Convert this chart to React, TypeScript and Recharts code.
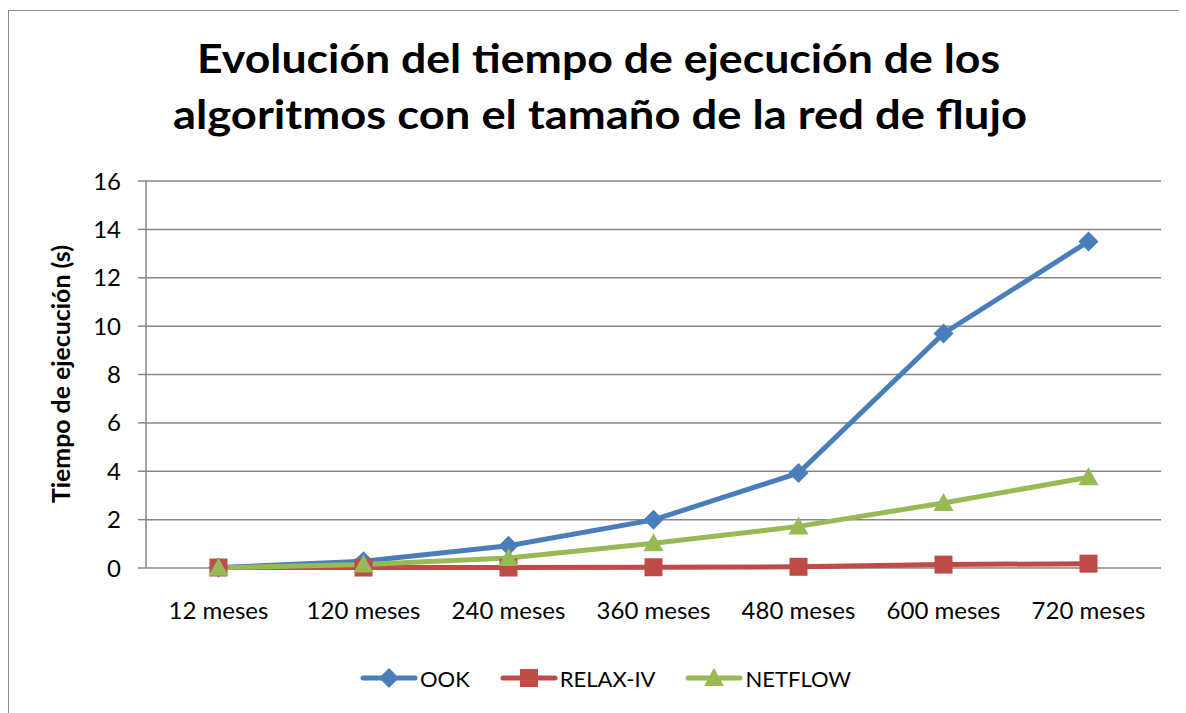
import React from "react";
import { LineChart, Line, XAxis, YAxis, CartesianGrid, Legend, Customized } from "recharts";

const categories = ["12 meses", "120 meses", "240 meses", "360 meses", "480 meses", "600 meses", "720 meses"];
const ookValues = [0.02, 0.28, 0.92, 1.99, 3.93, 9.7, 13.5];
const relaxValues = [0.02, 0.02, 0.02, 0.03, 0.05, 0.14, 0.18];
const netflowValues = [0.01, 0.14, 0.41, 1.02, 1.72, 2.69, 3.75];
const yTicks = [0, 2, 4, 6, 8, 10, 12, 14, 16];

const catTicks = categories.map((_, i) => i);
const boundaryTicks = [...categories.map((_, i) => i - 0.5), categories.length - 0.5];

const data = categories.map((name, i) => ({
  idx: i,
  name,
  OOK: ookValues[i],
  "RELAX-IV": relaxValues[i],
  NETFLOW: netflowValues[i],
}));

const BLUE = "#4a7ebb";
const RED = "#be4b48";
const GREEN = "#98b954";
const GRID = "#868686";
const FONT = "Lato, 'Open Sans', sans-serif";

const Marker = ({ kind, cx, cy, fill }: { kind: string; cx: number; cy: number; fill: string }) => {
  if (kind === "diamond")
    return <polygon points={`${cx},${cy - 10} ${cx + 10},${cy} ${cx},${cy + 10} ${cx - 10},${cy}`} fill={fill} />;
  if (kind === "square") return <rect x={cx - 9} y={cy - 9} width={18} height={18} fill={fill} />;
  return <polygon points={`${cx},${cy - 10} ${cx + 10},${cy + 8} ${cx - 10},${cy + 8}`} fill={fill} />;
};

const series = [
  { key: "OOK", color: BLUE, kind: "diamond" },
  { key: "RELAX-IV", color: RED, kind: "square" },
  { key: "NETFLOW", color: GREEN, kind: "triangle" },
];

const LegendContent = () => (
  <div style={{ display: "flex", alignItems: "center", height: 50, paddingLeft: 351, fontFamily: FONT, fontSize: 22, color: "#000" }}>
    {series.map((s) => (
      <div key={s.key} style={{ display: "flex", alignItems: "center", marginRight: 30 }}>
        <svg width={58} height={24}>
          <line x1={3} x2={55} y1={12} y2={12} stroke={s.color} strokeWidth={5} strokeLinecap="round" />
          <Marker kind={s.kind} cx={29} cy={12} fill={s.color} />
        </svg>
        <span style={{ marginLeft: 2 }}>{s.key}</span>
      </div>
    ))}
  </div>
);

const TitleLayer = () => (
  <g fontFamily={FONT} fontWeight="bold" fill="#000">
    <text x={589.5} y={62} fontSize={40} textAnchor="middle" textLength={803} lengthAdjust="spacingAndGlyphs">
      Evolución del tiempo de ejecución de los
    </text>
    <text x={591} y={118} fontSize={40} textAnchor="middle" textLength={854} lengthAdjust="spacingAndGlyphs">
      algoritmos con el tamaño de la red de flujo
    </text>
    <text transform="translate(61,363) rotate(-90)" fontSize={25} textAnchor="middle" textLength={258} lengthAdjust="spacingAndGlyphs">
      Tiempo de ejecución (s)
    </text>
  </g>
);

export default function App() {
  return (
    <div
      style={{
        marginTop: 2,
        width: 1178,
        height: 703,
        borderLeft: "1px solid #8a8a8a",
        borderTop: "1px solid #8a8a8a",
        overflow: "hidden",
        background: "#fff",
      }}
    >
      <LineChart width={1177} height={702} data={data} margin={{ top: 170, right: 25, bottom: 0, left: 0 }}>
        <CartesianGrid vertical={false} stroke={GRID} strokeWidth={1.5} xAxisId="cat" />
        <XAxis
          xAxisId="tick"
          dataKey="idx"
          type="number"
          domain={[-0.5, categories.length - 0.5]}
          ticks={boundaryTicks}
          height={0}
          tickSize={8}
          tickLine={{ stroke: GRID, strokeWidth: 1.5 }}
          axisLine={{ stroke: GRID, strokeWidth: 1.5 }}
          tick={() => <g />}
          interval={0}
        />
        <XAxis
          xAxisId="cat"
          dataKey="idx"
          type="number"
          domain={[-0.5, categories.length - 0.5]}
          ticks={catTicks}
          tickFormatter={(v: number) => categories[v]}
          height={85}
          tickLine={false}
          axisLine={false}
          tickSize={8}
          tickMargin={26}
          interval={0}
          tick={{ fill: "#000", fontSize: 24, fontFamily: FONT }}
        />
        <YAxis
          domain={[0, 16]}
          ticks={yTicks}
          width={137}
          tickSize={8}
          tickMargin={17}
          interval={0}
          tickLine={{ stroke: GRID, strokeWidth: 1.5 }}
          axisLine={{ stroke: GRID, strokeWidth: 1.5 }}
          tick={{ fill: "#000", fontSize: 24, fontFamily: FONT }}
        />
        <Legend verticalAlign="bottom" height={60} content={LegendContent} wrapperStyle={{ left: 0, width: 1177, bottom: 0 }} />
        {series.map((s) => (
          <Line
            key={s.key}
            xAxisId="cat"
            type="linear"
            dataKey={s.key}
            stroke={s.color}
            strokeWidth={5}
            isAnimationActive={false}
            dot={(p: any) => <Marker key={`${s.key}-${p.index}`} kind={s.kind} cx={p.cx} cy={p.cy} fill={s.color} />}
            activeDot={false}
          />
        ))}
        <Customized component={TitleLayer} />
      </LineChart>
    </div>
  );
}
